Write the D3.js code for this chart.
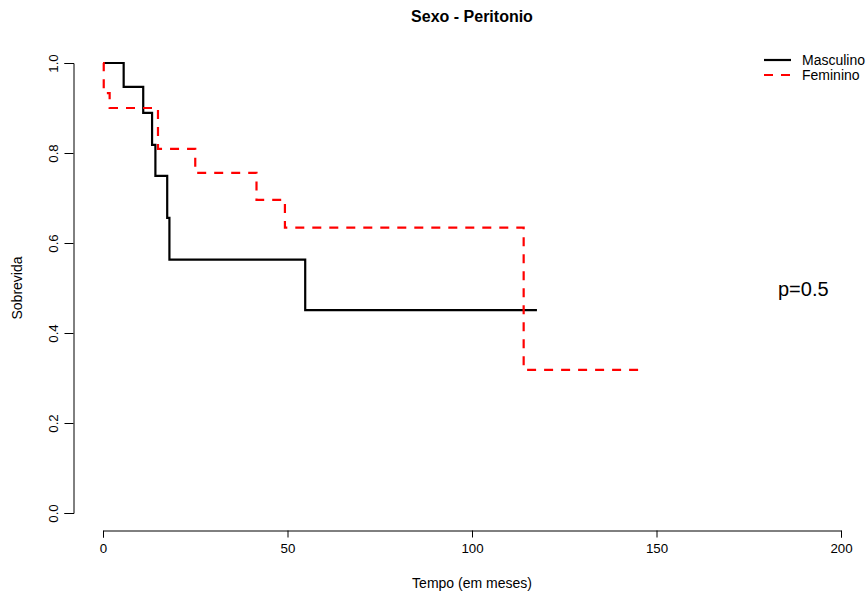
<!DOCTYPE html>
<html>
<head>
<meta charset="utf-8">
<script src="https://cdn.jsdelivr.net/npm/d3@7"></script>
<style>
  html, body { margin: 0; padding: 0; background: #fff; }
  svg { display: block; font-family: "Liberation Sans", Arial, sans-serif; }
</style>
</head>
<body>
<svg id="chart" width="867" height="597"></svg>
<script>
// ---- data ----
const seriesNames = ["Masculino", "Feminino"];
const masculinoTimes = [0, 5.6, 10.9, 13.3, 14.2, 17.4, 18.0, 54.8, 117.6];
const masculinoSurv  = [1.0, 0.947, 0.889, 0.818, 0.749, 0.656, 0.563, 0.451, 0.451];
const femininoTimes  = [0, 0.2, 1.8, 14.9, 25.0, 41.6, 49.3, 114.0, 146.0];
const femininoSurv   = [1.0, 0.933, 0.900, 0.809, 0.756, 0.696, 0.634, 0.318, 0.318];
const xTicks = [0, 50, 100, 150, 200];
const yTicks = [0.0, 0.2, 0.4, 0.6, 0.8, 1.0];
const titleText = "Sexo - Peritonio";
const xLabel = "Tempo (em meses)";
const yLabel = "Sobrevida";
const pText = "p=0.5";

const svg = d3.select("#chart");
const x = d3.scaleLinear().domain([0, 200]).range([103, 841]);
const y = d3.scaleLinear().domain([0, 1]).range([513, 63]);

// title
svg.append("text").attr("x", 472).attr("y", 22).attr("text-anchor", "middle")
  .attr("font-weight", "bold").attr("font-size", 16).text(titleText);

// x axis
const xAxis = d3.axisBottom(x).tickValues(xTicks).tickSize(7).tickPadding(6)
  .tickFormat(d3.format("d"));
const gx = svg.append("g").attr("transform", "translate(0,530.5)").call(xAxis);
gx.select(".domain").attr("stroke", "#000");
gx.selectAll(".tick text").attr("font-size", 13.3).attr("font-family", "Liberation Sans, Arial, sans-serif").attr("fill", "#000");

// y axis
const yAxis = d3.axisLeft(y).tickValues(yTicks).tickSize(9).tickFormat(d3.format(".1f"));
const gy = svg.append("g").attr("transform", "translate(73.5,0)").call(yAxis);
gy.select(".domain").attr("stroke", "#000");
gy.selectAll(".tick text").remove();
gy.selectAll(".tick").append("text")
  .attr("transform", "translate(-20,0) rotate(-90)")
  .attr("text-anchor", "middle").attr("dy", "0.35em")
  .attr("font-size", 13.3).attr("fill", "#000")
  .attr("font-family", "Liberation Sans, Arial, sans-serif")
  .text(d => d3.format(".1f")(d));

// axis titles
svg.append("text").attr("x", 472).attr("y", 588).attr("text-anchor", "middle")
  .attr("font-size", 14).text(xLabel);
svg.append("text").attr("transform", "translate(22,288) rotate(-90)")
  .attr("text-anchor", "middle").attr("font-size", 14).text(yLabel);

// curves
const line = d3.line().x(d => x(d[0])).y(d => y(d[1])).curve(d3.curveStepAfter);
const mData = masculinoTimes.map((t, i) => [t, masculinoSurv[i]]);
const fData = femininoTimes.map((t, i) => [t, femininoSurv[i]]);

svg.append("path").datum(mData).attr("d", line)
  .attr("fill", "none").attr("stroke", "#000").attr("stroke-width", 2.2);
svg.append("path").datum(fData).attr("d", line)
  .attr("fill", "none").attr("stroke", "#ff0000").attr("stroke-width", 2.2)
  .attr("stroke-dasharray", "9,8");

// legend
const legend = svg.append("g");
const legendStyles = [
  { color: "#000", dash: null },
  { color: "#ff0000", dash: "9,8" }
];
seriesNames.forEach((name, i) => {
  const yy = 60 + i * 15;
  legend.append("line").attr("x1", 764).attr("x2", 791).attr("y1", yy).attr("y2", yy)
    .attr("stroke", legendStyles[i].color).attr("stroke-width", 2.2)
    .attr("stroke-dasharray", legendStyles[i].dash);
  legend.append("text").attr("x", 802).attr("y", yy + 4.5).attr("font-size", 14).text(name);
});

// p value
svg.append("text").attr("x", 778).attr("y", 296).attr("font-size", 20).text(pText);
</script>
</body>
</html>
